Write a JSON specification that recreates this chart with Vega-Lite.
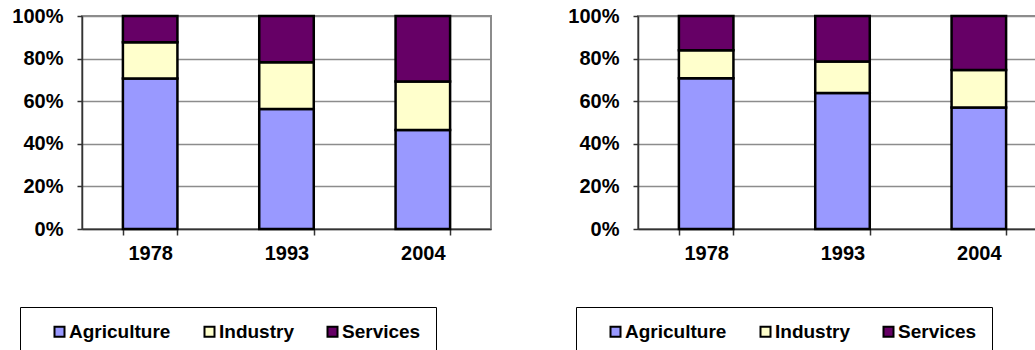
{
  "$schema": "https://vega.github.io/schema/vega-lite/v6.json",
  "padding": {"left": 10, "top": 5, "right": 0, "bottom": 0},
  "background": "white",
  "spacing": 74,
  "datasets": {
    "left": [
      {"year": "1978", "sector": "Agriculture", "share": 70.7},
      {"year": "1978", "sector": "Industry", "share": 17.0},
      {"year": "1978", "sector": "Services", "share": 12.3},
      {"year": "1993", "sector": "Agriculture", "share": 56.3},
      {"year": "1993", "sector": "Industry", "share": 22.0},
      {"year": "1993", "sector": "Services", "share": 21.7},
      {"year": "2004", "sector": "Agriculture", "share": 46.5},
      {"year": "2004", "sector": "Industry", "share": 22.8},
      {"year": "2004", "sector": "Services", "share": 30.7}
    ],
    "right": [
      {"year": "1978", "sector": "Agriculture", "share": 70.8},
      {"year": "1978", "sector": "Industry", "share": 13.1},
      {"year": "1978", "sector": "Services", "share": 16.1},
      {"year": "1993", "sector": "Agriculture", "share": 63.8},
      {"year": "1993", "sector": "Industry", "share": 14.8},
      {"year": "1993", "sector": "Services", "share": 21.4},
      {"year": "2004", "sector": "Agriculture", "share": 57.1},
      {"year": "2004", "sector": "Industry", "share": 17.6},
      {"year": "2004", "sector": "Services", "share": 25.3}
    ]
  },
  "config": {
    "view": {"stroke": "#8c8c8c", "strokeWidth": 2},
    "axis": {
      "labelFont": "Liberation Sans",
      "labelFontSize": 20,
      "labelFontWeight": "bold",
      "labelColor": "black",
      "title": null,
      "domainColor": "#333333",
      "domainWidth": 1.5,
      "tickColor": "#333333",
      "tickWidth": 1.5
    },
    "axisY": {"grid": true, "gridColor": "#8c8c8c", "gridWidth": 1.5, "tickSize": 5, "labelPadding": 14},
    "axisX": {"grid": false, "tickSize": 6, "labelPadding": 8, "labelAngle": 0, "tickBand": "extent"}
  },
  "resolve": {"legend": {"color": "independent"}},
  "hconcat": [
    {
      "width": 409,
      "height": 213,
      "data": {"name": "left"},
      "mark": {"type": "bar", "stroke": "black", "strokeWidth": 2.5},
      "encoding": {
        "x": {"field": "year", "type": "nominal", "scale": {"paddingInner": 0.6, "paddingOuter": 0.3}, "axis": {"title": null}},
        "y": {"field": "share", "type": "quantitative", "stack": "normalize", "scale": {"domain": [0, 1], "nice": false}, "axis": {"format": ".0%", "values": [0, 0.2, 0.4, 0.6, 0.8, 1], "title": null}},
        "order": {"field": "sector", "sort": "ascending"},
        "color": {
          "field": "sector", "type": "nominal",
          "scale": {"domain": ["Agriculture", "Industry", "Services"], "range": ["#9999FF", "#FFFFCC", "#660066"]},
          "legend": {"orient": "none", "legendX": -62, "legendY": 291, "direction": "horizontal", "title": null, "strokeColor": "black", "fillColor": "white", "padding": 15, "symbolType": "square", "symbolSize": 100, "symbolStrokeColor": "black", "symbolStrokeWidth": 2, "symbolOffset": 15, "columnPadding": 14, "labelOffset": 0, "labelFont": "Liberation Sans", "labelFontWeight": "bold", "labelFontSize": 19, "labelColor": "black", "symbolOpacity": 1}
        }
      }
    },
    {
      "width": 409,
      "height": 213,
      "data": {"name": "right"},
      "mark": {"type": "bar", "stroke": "black", "strokeWidth": 2.5},
      "encoding": {
        "x": {"field": "year", "type": "nominal", "scale": {"paddingInner": 0.6, "paddingOuter": 0.3}, "axis": {"title": null}},
        "y": {"field": "share", "type": "quantitative", "stack": "normalize", "scale": {"domain": [0, 1], "nice": false}, "axis": {"format": ".0%", "values": [0, 0.2, 0.4, 0.6, 0.8, 1], "title": null}},
        "order": {"field": "sector", "sort": "ascending"},
        "color": {
          "field": "sector", "type": "nominal",
          "scale": {"domain": ["Agriculture", "Industry", "Services"], "range": ["#9999FF", "#FFFFCC", "#660066"]},
          "legend": {"orient": "none", "legendX": -62, "legendY": 291, "direction": "horizontal", "title": null, "strokeColor": "black", "fillColor": "white", "padding": 15, "symbolType": "square", "symbolSize": 100, "symbolStrokeColor": "black", "symbolStrokeWidth": 2, "symbolOffset": 15, "columnPadding": 14, "labelOffset": 0, "labelFont": "Liberation Sans", "labelFontWeight": "bold", "labelFontSize": 19, "labelColor": "black", "symbolOpacity": 1}
        }
      }
    }
  ]
}
